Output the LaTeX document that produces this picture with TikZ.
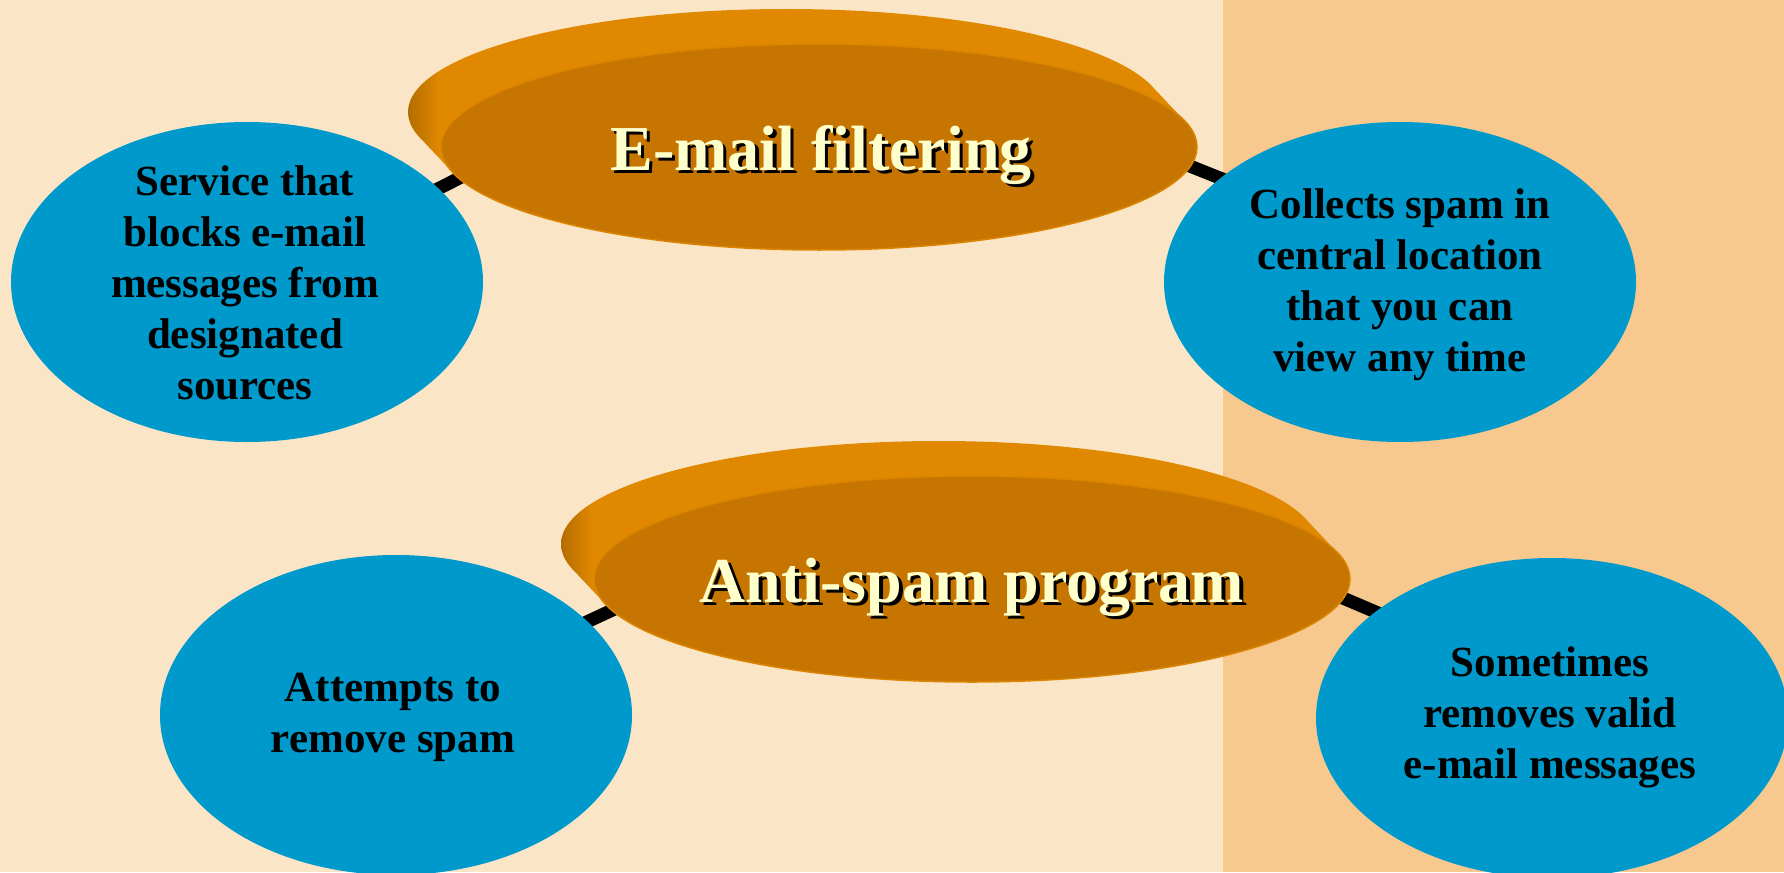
\documentclass[tikz,border=0pt]{standalone}
\usepackage{fontspec}
\setmainfont{Liberation Serif}
\usetikzlibrary{shapes.geometric}
\definecolor{bgleft}{HTML}{FAE6C6}
\definecolor{bgright}{HTML}{F8C98E}
\definecolor{bubblecol}{HTML}{0099CC}
\definecolor{diskside}{HTML}{E08800}
\definecolor{diskdark}{HTML}{B46C00}
\definecolor{diskface}{HTML}{C67600}
\definecolor{diskrim}{HTML}{DA8400}
\definecolor{titlecol}{HTML}{FFFFCC}
\pgfdeclarelayer{background}
\pgfdeclarelayer{connectors}
\pgfsetlayers{background,connectors,main}
\pgfdeclarehorizontalshading{sideshade}{100bp}{color(0bp)=(diskdark); color(25bp)=(diskdark); color(27bp)=(diskside); color(100bp)=(diskside)}
\begin{document}
\begin{tikzpicture}[x=1pt,y=-1pt,
  bubblesh/.style={ellipse, fill=bubblecol, inner sep=0pt, minimum width=472pt, minimum height=320pt},
  bubbletext/.style={align=center, font=\fontsize{43}{51}\selectfont\bfseries, text=black},
  diskfront/.style={ellipse, fill=diskface, draw=diskrim, line width=1.5pt, inner sep=0pt, minimum width=756pt, minimum height=206pt},
  titletxt/.style={font=\fontsize{64}{70}\selectfont\bfseries, text=titlecol, anchor=base},
  titleshadow/.style={font=\fontsize{64}{70}\selectfont\bfseries, text=black, anchor=base},
  conn/.style={line width=13pt, black, shorten <=-20pt, shorten >=-20pt}]
\useasboundingbox (0,0) rectangle (1784,872);
\clip (0,0) rectangle (1784,872);
\begin{pgfonlayer}{background}
\fill[bgleft] (0,0) rectangle (1784,872);
\fill[bgright] (1223,0) rectangle (1784,872);
\end{pgfonlayer}
% blue bubbles
\node[bubblesh] (bTL) at (247,282) {};
\node[bubblesh] (bTR) at (1400,282) {};
\node[bubblesh] (bBL) at (396,715) {};
\node[bubblesh] (bBR) at (1552,718) {};
% top disk
\shade[shading=sideshade] (786,112) ellipse [x radius=378pt, y radius=103pt]
  (819,147) ellipse [x radius=378pt, y radius=103pt]
  (1185.1,121.4) -- (1152.1,86.4) -- (419.9,137.6) -- (452.9,172.6) -- cycle;
\node[diskfront] (dTop) at (819,147) {};
% bottom disk
\shade[shading=sideshade] (939,544) ellipse [x radius=378pt, y radius=103pt]
  (972,579) ellipse [x radius=378pt, y radius=103pt]
  (1338.1,553.4) -- (1305.1,518.4) -- (572.9,569.6) -- (605.9,604.6) -- cycle;
\node[diskfront] (dBot) at (972,579) {};
% connectors
\begin{pgfonlayer}{connectors}
\draw[conn] (bTL.26) -- (dTop.185);
\draw[conn] (bTR.150) -- (dTop.357);
\draw[conn] (bBL.26) -- (dBot.185);
\draw[conn] (bBR.149) -- (dBot.357);
\end{pgfonlayer}
% titles
\node[titleshadow] (sTop) at (824.5,173) {E-mail filtering};
\node[titletxt] (tTop) at (821,170) {E-mail filtering};
\node[titleshadow] (sBot) at (975.5,605) {Anti-spam program};
\node[titletxt] (tBot) at (972,602) {Anti-spam program};
% bubble texts
\node[bubbletext] (xTL) at (245,283) {Service that\\blocks e-mail\\messages from\\designated\\sources};
\node[bubbletext] (xTR) at (1400,285) {Collects spam in\\central location\\that you can\\view any time};
\node[bubbletext] (xBL) at (393,717) {Attempts to\\remove spam};
\node[bubbletext] (xBR) at (1550,717) {Sometimes\\removes valid\\e-mail messages};
\end{tikzpicture}
\end{document}
